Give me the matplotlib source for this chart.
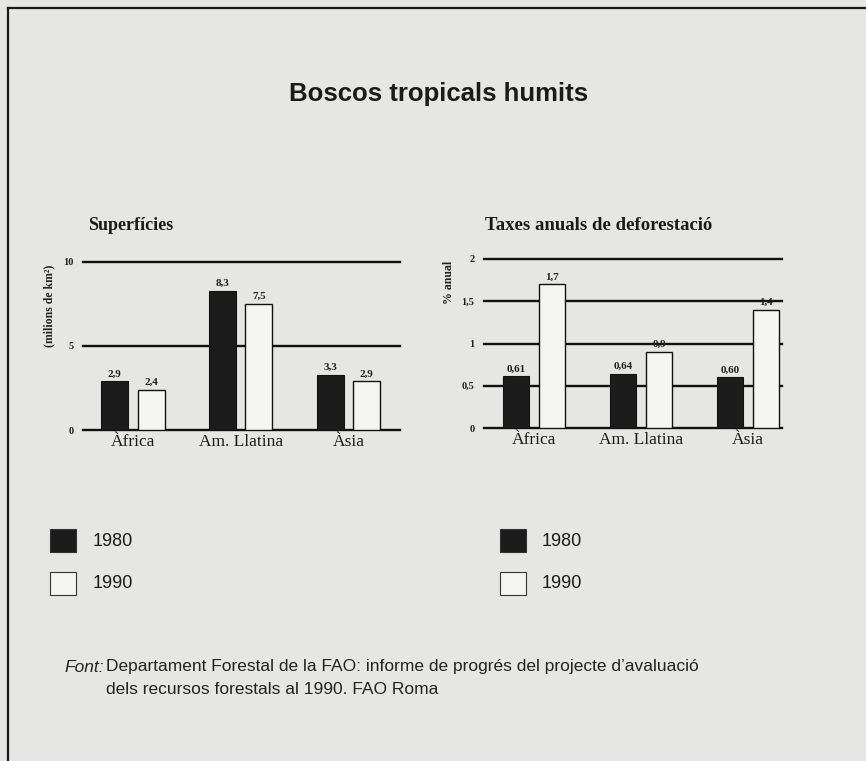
import matplotlib
matplotlib.use("Agg")
import matplotlib.pyplot as plt
from matplotlib.patches import Rectangle
from matplotlib.lines import Line2D
import numpy as np

# ---- data ----
categories = ["Àfrica", "Am. Llatina", "Àsia"]
sup_1980 = [2.9, 8.3, 3.3]
sup_1990 = [2.4, 7.5, 2.9]
def_1980 = [0.61, 0.64, 0.60]
def_1990 = [1.7, 0.9, 1.4]
sup_ticks = [0, 5, 10]
def_ticks = [0, 0.5, 1, 1.5, 2]
legend_years = ["1980", "1990"]

W, H = 866, 761
BG = "#e6e6e4"
DARK = "#1c1c1c"
LIGHT = "#f5f5f3"
SERIF = "Liberation Serif"
SANS = "Liberation Sans"

fig = plt.figure(figsize=(W / 100, H / 100), dpi=100, facecolor=BG)

def fx(px):
    return px / W

def fy(py):
    return (H - py) / H

def comma(v, nd):
    return f"{v:.{nd}f}".replace(".", ",")

def make_axes(left, right, top, bottom):
    ax = fig.add_axes([fx(left), fy(bottom), fx(right) - fx(left), fy(top) - fy(bottom)])
    ax.set_facecolor("none")
    for s in ax.spines.values():
        s.set_visible(False)
    return ax

def draw_chart(ax, v80, v90, ticks, ylim, xlim, width, off, nd80, nd90, ticklabels):
    x = np.arange(len(categories))
    ax.set_xlim(*xlim)
    ax.set_ylim(*ylim)
    for t in ticks:
        ax.axhline(t, color="#111111", lw=1.7, zorder=1, clip_on=False)
    b1 = ax.bar(x - off, v80, width, color=DARK, edgecolor="#111111", lw=0.8, zorder=2)
    b2 = ax.bar(x + off, v90, width, color=LIGHT, edgecolor="#111111", lw=1.0, zorder=2)
    for bars, vals, nd in ((b1, v80, nd80), (b2, v90, nd90)):
        for r, v in zip(bars, vals):
            ax.annotate(comma(v, nd), (r.get_x() + r.get_width() / 2, v),
                        xytext=(0, 2), textcoords="offset points",
                        ha="center", va="bottom", fontsize=8, fontweight="bold",
                        family=SERIF, color="#222222", clip_on=False)
    ax.set_yticks(ticks)
    ax.set_yticklabels(ticklabels, family=SERIF, fontweight="bold", fontsize=7.5, color="#222222")
    ax.tick_params(axis="y", length=0, pad=7)
    ax.set_xticks(x)
    ax.set_xticklabels(categories, family=SERIF, fontsize=12.5, color="#1a1a1a")
    ax.tick_params(axis="x", length=0, pad=3)

# left chart
axL = make_axes(83, 400, 262, 430)
draw_chart(axL, sup_1980, sup_1990, sup_ticks, (0, 10),
           ((83 - 133) / 107.75, (400 - 133) / 107.75), 0.25, 0.169, 1, 1,
           [str(t) for t in sup_ticks])

# right chart
axR = make_axes(484, 782, 259, 428)
draw_chart(axR, def_1980, def_1990, def_ticks, (0, 2),
           ((484 - 534) / 107.0, (782 - 534) / 107.0), 0.243, 0.17, 2, 1,
           [comma(t, 1) if t % 1 else str(int(t)) for t in def_ticks])

# axis titles (rotated)
fig.text(fx(49), fy(306), "(milions de km²)", rotation=90, ha="center", va="center",
         family=SERIF, fontweight="bold", fontsize=8.5, color="#222222")
fig.text(fx(449), fy(282), "% anual", rotation=90, ha="center", va="center",
         family=SERIF, fontweight="bold", fontsize=8.5, color="#222222")

# titles
fig.text(fx(439), fy(94), "Boscos tropicals humits", ha="center", va="center",
         family=SANS, fontweight="bold", fontsize=18.5, color="#1a1a1a")
fig.text(fx(88), fy(226), "Superfícies", ha="left", va="center",
         family=SERIF, fontweight="bold", fontsize=13, color="#1a1a1a")
fig.text(fx(485), fy(226), "Taxes anuals de deforestació", ha="left", va="center",
         family=SERIF, fontweight="bold", fontsize=13.5, color="#1a1a1a")

# legends
for kx, tx in ((50, 93), (500, 542)):
    for (ky, yr, col) in ((529, legend_years[0], DARK), (572, legend_years[1], LIGHT)):
        fig.add_artist(Rectangle((fx(kx), fy(ky + 23)), fx(26), 23 / H,
                                 transform=fig.transFigure, facecolor=col,
                                 edgecolor="#333333", lw=0.8))
        fig.text(fx(tx), fy(ky + 12), yr, ha="left", va="center",
                 family=SANS, fontsize=13, color="#1a1a1a")

# source
FS = 12.5
fig.text(fx(64), fy(667), "Font:", ha="left", va="center", family=SANS,
         style="italic", fontsize=FS, color="#222222")
fig.text(fx(106), fy(667),
         "Departament Forestal de la FAO: informe de progrés del projecte d\u2019avaluació",
         ha="left", va="center", family=SANS, fontsize=FS, color="#222222")
fig.text(fx(106), fy(689), "dels recursos forestals al 1990. FAO Roma",
         ha="left", va="center", family=SANS, fontsize=FS, color="#222222")

# frame
fig.add_artist(Line2D([fx(8), 1], [fy(8), fy(8)], transform=fig.transFigure,
                      color="#1a1a1a", lw=1.6))
fig.add_artist(Line2D([fx(8), fx(8)], [fy(8), 0], transform=fig.transFigure,
                      color="#1a1a1a", lw=1.6))

fig.savefig("out.png", dpi=100, facecolor=BG)
